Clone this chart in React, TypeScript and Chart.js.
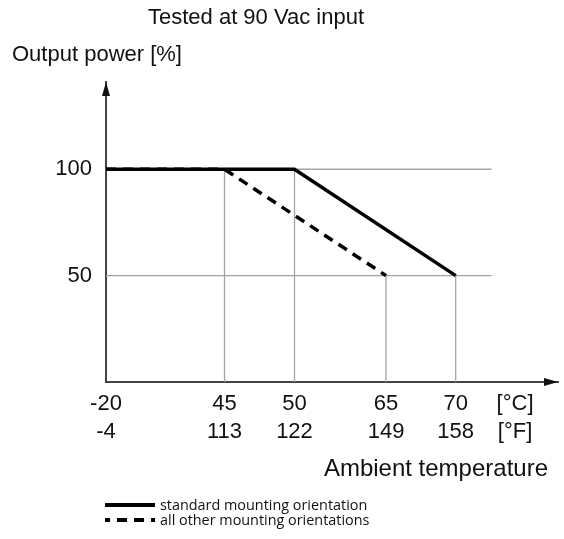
import React, { useEffect, useRef } from 'react';
import { Chart, registerables, LinearScale } from 'chart.js';

// ---------- data ----------
const tempC = [-20, 45, 50, 65, 70];
const tempF = [-4, 113, 122, 149, 158];
const unitC = '[°C]';
const unitF = '[°F]';
const unitTickAt = 75.8;
const powerTicks = [50, 100];
const standardX = [-20, 50, 70];
const standardY = [100, 100, 50];
const otherX = [-20, 45, 65];
const otherY = [100, 100, 50];
const seriesLabels = ['standard mounting orientation', 'all other mounting orientations'];
const titleText = 'Tested at 90 Vac input';
const yTitle = 'Output power [%]';
const xTitle = 'Ambient temperature';
const gridEndX = 73.5;

// ---------- schematic (piecewise) temperature axis ----------
const X_MIN = -20;
const X_MAX = 80;
const X_BREAKS: [number, number][] = [
  [-20, 0],
  [45, 0.2622],
  [50, 0.417],
  [65, 0.6195],
  [70, 0.7737],
  [80, 1],
];

function toFrac(v: number): number {
  const b = X_BREAKS;
  let i = 0;
  if (v <= b[0][0]) i = 0;
  else if (v >= b[b.length - 1][0]) i = b.length - 2;
  else {
    while (i < b.length - 2 && v > b[i + 1][0]) i++;
  }
  const [v0, f0] = b[i];
  const [v1, f1] = b[i + 1];
  return f0 + ((v - v0) / (v1 - v0)) * (f1 - f0);
}
function fromFrac(f: number): number {
  const b = X_BREAKS;
  let i = 0;
  if (f <= b[0][1]) i = 0;
  else if (f >= b[b.length - 1][1]) i = b.length - 2;
  else {
    while (i < b.length - 2 && f > b[i + 1][1]) i++;
  }
  const [v0, f0] = b[i];
  const [v1, f1] = b[i + 1];
  return v0 + ((f - f0) / (f1 - f0)) * (v1 - v0);
}

class PiecewiseScale extends LinearScale {
  static id = 'piecewise';
  getPixelForValue(value: number) {
    if (value === null || value === undefined || isNaN(value)) return NaN;
    return (this as any).getPixelForDecimal(toFrac(value));
  }
  getValueForPixel(pixel: number) {
    return fromFrac((this as any).getDecimalForPixel(pixel));
  }
}

Chart.register(...registerables, PiecewiseScale as any);

const FONT = '"Liberation Sans", Arial, sans-serif';
const LEGEND_FONT = '"Open Sans", "Noto Sans", sans-serif';

const pts = (xs: number[], ys: number[]) => xs.map((x, i) => ({ x, y: ys[i] }));

export default function App() {
  const ref = useRef<HTMLCanvasElement>(null);

  useEffect(() => {
    document.body.style.margin = '0';
    const canvas = ref.current;
    if (!canvas) return;

    const gridColor = '#a3a3a3';
    const gridWidth = 1.3;

    // vertical guide lines from the axis up to each break point of the curves
    const guides: { x: number; y: number }[] = [];
    [
      [standardX, standardY],
      [otherX, otherY],
    ].forEach(([xs, ys]) => {
      xs.forEach((x, i) => {
        if (x !== X_MIN) guides.push({ x, y: ys[i] });
      });
    });

    const guideSets = guides.map((g) => ({
      label: '_guide',
      data: [
        { x: g.x, y: 0 },
        { x: g.x, y: g.y },
      ],
      borderColor: gridColor,
      borderWidth: gridWidth,
      pointRadius: 0,
      order: 3,
    }));
    const hSets = powerTicks.map((p) => ({
      label: '_guide',
      data: [
        { x: X_MIN, y: p },
        { x: gridEndX, y: p },
      ],
      borderColor: gridColor,
      borderWidth: gridWidth,
      pointRadius: 0,
      order: 3,
    }));

    const overlay = {
      id: 'overlay',
      afterDraw(chart: any) {
        const { ctx, chartArea: ca } = chart;
        ctx.save();
        // arrows
        ctx.fillStyle = '#111';
        ctx.beginPath();
        ctx.moveTo(ca.left, ca.top);
        ctx.lineTo(ca.left - 4, ca.top + 14);
        ctx.lineTo(ca.left + 4, ca.top + 14);
        ctx.closePath();
        ctx.fill();
        ctx.beginPath();
        ctx.moveTo(ca.right, ca.bottom);
        ctx.lineTo(ca.right - 14, ca.bottom - 4);
        ctx.lineTo(ca.right - 14, ca.bottom + 4);
        ctx.closePath();
        ctx.fill();

        // titles
        ctx.fillStyle = '#111';
        ctx.textBaseline = 'alphabetic';
        ctx.font = `22px ${FONT}`;
        ctx.textAlign = 'center';
        ctx.fillText(titleText, 256, 24);
        ctx.textAlign = 'left';
        ctx.fillText(yTitle, 12, 61);
        ctx.font = `24px ${FONT}`;
        ctx.textAlign = 'right';
        ctx.fillText(xTitle, 548, 476);

        // legend
        const ds = chart.data.datasets.filter((d: any) => d.label !== '_guide');
        ds.forEach((d: any, i: number) => {
          const y = 505 + i * 15;
          ctx.strokeStyle = d.borderColor;
          ctx.lineWidth = 4;
          ctx.setLineDash(d.borderDash || []);
          ctx.lineDashOffset = d.borderDash ? 5 : 0;
          ctx.beginPath();
          ctx.moveTo(105, y);
          ctx.lineTo(155, y);
          ctx.stroke();
          ctx.setLineDash([]);
          ctx.font = `14.4px ${LEGEND_FONT}`;
          ctx.textAlign = 'left';
          ctx.textBaseline = 'middle';
          ctx.fillStyle = '#111';
          ctx.fillText(d.label, 160, y + 1);
        });
        ctx.restore();
      },
    };

    const tickFont = { family: FONT, size: 22, lineHeight: 28 / 22 };

    const chart = new Chart(canvas, {
      type: 'line',
      data: {
        datasets: [
          {
            label: seriesLabels[0],
            data: pts(standardX, standardY),
            borderColor: '#000',
            borderWidth: 3.5,
            pointRadius: 0,
            tension: 0,
            order: 1,
          },
          {
            label: seriesLabels[1],
            data: pts(otherX, otherY),
            borderColor: '#000',
            borderWidth: 3.5,
            borderDash: [10, 7],
            pointRadius: 0,
            tension: 0,
            order: 2,
          },
          ...guideSets,
          ...hSets,
        ] as any,
      },
      options: {
        responsive: false,
        animation: false,
        devicePixelRatio: 1,
        layout: { padding: { top: 82, right: 6, bottom: 96, left: 0 } },
        plugins: {
          legend: { display: false },
          tooltip: { enabled: false },
          title: { display: false },
        },
        events: [],
        scales: {
          x: {
            type: 'piecewise' as any,
            min: X_MIN,
            max: X_MAX,
            grid: { display: false, drawTicks: false },
            border: { display: true, color: '#444', width: 2 },
            ticks: {
              autoSkip: false,
              maxRotation: 0,
              minRotation: 0,
              padding: 8,
              color: '#111',
              font: tickFont,
              callback: (_v: any, index: number) =>
                index < tempC.length
                  ? [String(tempC[index]), String(tempF[index])]
                  : [unitC, unitF],
            },
            afterBuildTicks: (scale: any) => {
              scale.ticks = [...tempC, unitTickAt].map((v) => ({ value: v }));
            },
            afterFit: (scale: any) => {
              scale.height = 61;
            },
          },
          y: {
            type: 'linear',
            min: 0,
            max: 141,
            grid: { display: false, drawTicks: false },
            border: { display: true, color: '#444', width: 2 },
            ticks: {
              padding: 14,
              color: '#111',
              font: tickFont,
            },
            afterBuildTicks: (scale: any) => {
              scale.ticks = powerTicks.map((v) => ({ value: v }));
            },
            afterFit: (scale: any) => {
              scale.width = 106;
            },
          },
        } as any,
      },
      plugins: [overlay],
    });

    return () => chart.destroy();
  }, []);

  return (
    <canvas
      ref={ref}
      width={564}
      height={539}
      style={{ display: 'block', width: 564, height: 539 }}
    />
  );
}
